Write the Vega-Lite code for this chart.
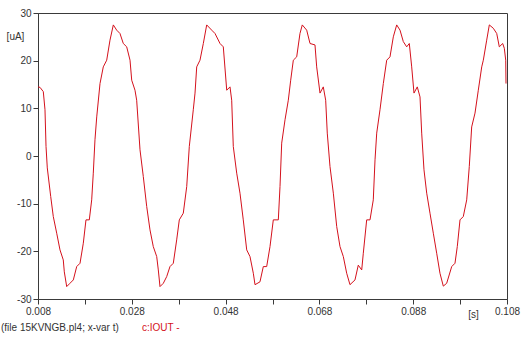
{
  "$schema": "https://vega.github.io/schema/vega-lite/v6.json",
  "width": 469,
  "height": 286,
  "autosize": {"type": "none"},
  "padding": {"left": 38, "top": 13, "right": 16, "bottom": 39},
  "background": "white",
  "config": {
    "view": {"stroke": "#3a3a3a", "strokeWidth": 1},
    "font": "Liberation Sans",
    "axis": {"grid": false, "domainColor": "#3a3a3a", "tickColor": "#3a3a3a", "labelColor": "#333", "labelFont": "Liberation Sans", "labelFontSize": 10, "tickSize": 5, "titleFont": "Liberation Sans", "titleFontSize": 10, "titleFontWeight": "normal", "titleColor": "#333"}
  },
  "datasets": {
    "wave": [
      {"t":0.00800,"i":14.5},{"t":0.00843,"i":14.4},{"t":0.00913,"i":13.5},{"t":0.00949,"i":9.7},{"t":0.00971,"i":2},{"t":0.00998,"i":-2.5},{"t":0.01071,"i":-8.5},{"t":0.01126,"i":-12.7},{"t":0.01199,"i":-16.2},{"t":0.01269,"i":-19.7},{"t":0.01339,"i":-21.8},{"t":0.01361,"i":-24.3},{"t":0.01412,"i":-27.4},{"t":0.01482,"i":-26.7},{"t":0.01553,"i":-26},{"t":0.01625,"i":-23.2},{"t":0.01696,"i":-22.5},{"t":0.01766,"i":-18.3},{"t":0.01823,"i":-13.4},{"t":0.01894,"i":-13.4},{"t":0.01945,"i":-9.2},{"t":0.01979,"i":-3.6},{"t":0.02015,"i":3.4},{"t":0.02052,"i":8.2},{"t":0.02122,"i":15.2},{"t":0.02192,"i":18.7},{"t":0.02265,"i":20.1},{"t":0.02335,"i":24.3},{"t":0.02406,"i":27.5},{"t":0.02478,"i":26.4},{"t":0.02548,"i":25.7},{"t":0.02619,"i":23.6},{"t":0.02691,"i":22.9},{"t":0.02762,"i":20.1},{"t":0.02798,"i":15.9},{"t":0.02868,"i":13.8},{"t":0.02904,"i":11.7},{"t":0.02975,"i":1.3},{"t":0.03045,"i":-4.3},{"t":0.03118,"i":-10.6},{"t":0.03188,"i":-15.5},{"t":0.03258,"i":-19},{"t":0.03331,"i":-21.1},{"t":0.03365,"i":-23.9},{"t":0.03401,"i":-27.4},{"t":0.03472,"i":-26.7},{"t":0.03544,"i":-25.3},{"t":0.03614,"i":-23.2},{"t":0.03685,"i":-22.5},{"t":0.03757,"i":-17.6},{"t":0.03813,"i":-13.4},{"t":0.03898,"i":-12},{"t":0.03971,"i":-6.4},{"t":0.04026,"i":2},{"t":0.04111,"i":9.7},{"t":0.04148,"i":13.2},{"t":0.04184,"i":18.7},{"t":0.04254,"i":20.1},{"t":0.04325,"i":23.6},{"t":0.04397,"i":27.5},{"t":0.04504,"i":26.4},{"t":0.04574,"i":25.7},{"t":0.04681,"i":23.6},{"t":0.04751,"i":22.9},{"t":0.04824,"i":13.8},{"t":0.04894,"i":14.5},{"t":0.04930,"i":11.7},{"t":0.04964,"i":2},{"t":0.05037,"i":-3.6},{"t":0.05107,"i":-7.8},{"t":0.05177,"i":-13.4},{"t":0.05250,"i":-19.7},{"t":0.05320,"i":-21.1},{"t":0.05391,"i":-24.6},{"t":0.05427,"i":-27},{"t":0.05533,"i":-26.4},{"t":0.05604,"i":-23.2},{"t":0.05676,"i":-23.2},{"t":0.05747,"i":-19},{"t":0.05817,"i":-13.4},{"t":0.05924,"i":-13.4},{"t":0.05960,"i":-6.4},{"t":0.05996,"i":2.7},{"t":0.06067,"i":7.6},{"t":0.06137,"i":11.7},{"t":0.06188,"i":15.9},{"t":0.06244,"i":20.1},{"t":0.06316,"i":20.8},{"t":0.06386,"i":25.7},{"t":0.06435,"i":27.5},{"t":0.06529,"i":26.4},{"t":0.06600,"i":23.6},{"t":0.06706,"i":23.3},{"t":0.06742,"i":18.7},{"t":0.06813,"i":13.2},{"t":0.06883,"i":14.5},{"t":0.06934,"i":11.7},{"t":0.06968,"i":4.8},{"t":0.07026,"i":-2.2},{"t":0.07097,"i":-7.8},{"t":0.07169,"i":-14.8},{"t":0.07239,"i":-19},{"t":0.07310,"i":-21.1},{"t":0.07382,"i":-24.6},{"t":0.07452,"i":-27},{"t":0.07559,"i":-26},{"t":0.07629,"i":-22.9},{"t":0.07702,"i":-23.9},{"t":0.07736,"i":-20.4},{"t":0.07808,"i":-13.4},{"t":0.07879,"i":-13.4},{"t":0.07949,"i":-9.2},{"t":0.07986,"i":-0.8},{"t":0.08022,"i":4.8},{"t":0.08092,"i":9.7},{"t":0.08163,"i":15.2},{"t":0.08235,"i":20.1},{"t":0.08305,"i":20.8},{"t":0.08376,"i":25},{"t":0.08448,"i":27.5},{"t":0.08519,"i":26.4},{"t":0.08589,"i":24},{"t":0.08661,"i":22.9},{"t":0.08717,"i":23.6},{"t":0.08768,"i":18.7},{"t":0.08817,"i":13.2},{"t":0.08887,"i":14.5},{"t":0.08945,"i":12.4},{"t":0.08981,"i":4.8},{"t":0.09030,"i":-2.9},{"t":0.09088,"i":-7.8},{"t":0.09158,"i":-12},{"t":0.09229,"i":-16.2},{"t":0.09301,"i":-20.4},{"t":0.09371,"i":-24.6},{"t":0.09442,"i":-27.3},{"t":0.09514,"i":-26.7},{"t":0.09621,"i":-23.2},{"t":0.09691,"i":-22.5},{"t":0.09740,"i":-19},{"t":0.09798,"i":-13.4},{"t":0.09868,"i":-12.7},{"t":0.09941,"i":-9.2},{"t":0.09996,"i":-2.2},{"t":0.10047,"i":6.1},{"t":0.10118,"i":9},{"t":0.10188,"i":13.8},{"t":0.10261,"i":18.7},{"t":0.10295,"i":20.1},{"t":0.10367,"i":24.3},{"t":0.10423,"i":27.5},{"t":0.10508,"i":26.8},{"t":0.10581,"i":25.7},{"t":0.10636,"i":22.9},{"t":0.10708,"i":23.6},{"t":0.10743,"i":22.6},{"t":0.10773,"i":20.1},{"t":0.10779,"i":15.2}
    ],
    "notes": [
      {"label": "(file 15KVNGB.pl4; x-var t)", "kind": "file"},
      {"label": "c:IOUT -", "kind": "series"}
    ]
  },
  "layer": [
    {
      "data": {"name": "wave"},
      "mark": {"type": "line", "color": "#d4111c", "strokeWidth": 1, "interpolate": "linear"},
      "encoding": {
        "x": {"field": "t", "type": "quantitative",
              "scale": {"domain": [0.008, 0.108], "nice": false, "zero": false},
              "axis": {"values": [0.008,0.018,0.028,0.038,0.048,0.058,0.068,0.078,0.088,0.098,0.108],
                       "labelExpr": "round(datum.value*1000) % 20 == 8 ? format(datum.value, '.3f') : ''",
                       "labelFlush": false, "labelPadding": 2, "labelOverlap": false,
                       "title": "[s]", "titleAnchor": null, "titleX": 435, "titleY": 15, "titleBaseline": "middle", "titleAlign": "center"}},
        "y": {"field": "i", "type": "quantitative",
              "scale": {"domain": [-30, 30], "nice": false, "zero": false},
              "axis": {"values": [-30,-20,-10,0,10,20,30], "labelPadding": 2,
                       "labelExpr": "replace(format(datum.value, 'd'), '\u2212', '-')",
                       "title": "[uA]", "titleAngle": 0, "titleX": -23, "titleY": 23, "titleBaseline": "middle", "titleAlign": "center"}}
      }
    },
    {
      "data": {"name": "notes"},
      "transform": [{"filter": "datum.kind == 'file'"}],
      "mark": {"type": "text", "align": "left", "baseline": "middle", "fontSize": 10, "font": "Liberation Sans", "color": "#333", "clip": false},
      "encoding": {
        "x": {"datum": 0.00011, "type": "quantitative"},
        "y": {"datum": -36.1, "type": "quantitative"},
        "text": {"field": "label"}
      }
    },
    {
      "data": {"name": "notes"},
      "transform": [{"filter": "datum.kind == 'series'"}],
      "mark": {"type": "text", "align": "left", "baseline": "middle", "fontSize": 10, "font": "Liberation Sans", "color": "#d4111c", "clip": false},
      "encoding": {
        "x": {"datum": 0.03018, "type": "quantitative"},
        "y": {"datum": -36.1, "type": "quantitative"},
        "text": {"field": "label"}
      }
    }
  ]
}
